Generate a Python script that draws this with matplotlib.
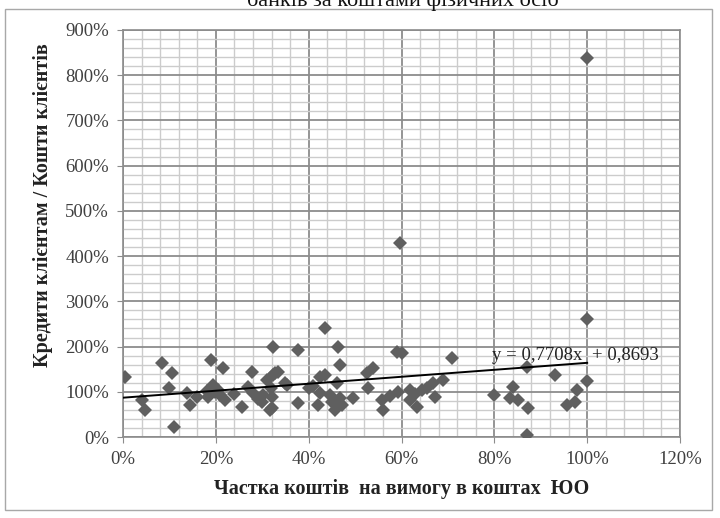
import numpy as np
import matplotlib.pyplot as plt
from matplotlib.ticker import MultipleLocator, FuncFormatter
from matplotlib.patches import Rectangle

plt.rcParams['font.family'] = ['Liberation Serif', 'DejaVu Serif']

# Share of demand deposits in legal-entity funds (x) and loans/deposits ratio (y)
demand_share = [0.004, 0.04, 0.047, 0.084, 0.105, 0.10, 0.11, 0.138, 0.144, 0.16,
                0.19, 0.194, 0.198, 0.183, 0.216, 0.22, 0.209, 0.256, 0.278, 0.27,
                0.28, 0.30, 0.317, 0.323, 0.31, 0.328, 0.302, 0.377, 0.463, 0.468,
                0.435, 0.334, 0.323, 0.318, 0.32, 0.32, 0.353, 0.377, 0.40, 0.425,
                0.435, 0.425, 0.42, 0.446, 0.46, 0.457, 0.468, 0.496, 0.472, 0.526,
                0.539, 0.528, 0.558, 0.56, 0.59, 0.60, 0.593, 0.597, 0.618, 0.618,
                0.634, 0.644, 0.655, 0.668, 0.672, 0.69, 0.709, 0.80, 0.834, 0.84,
                0.851, 0.87, 0.873, 0.87, 0.931, 0.957, 0.974, 0.978, 1.0, 1.0,
                1.0, 0.18, 0.24, 0.29, 0.41, 0.45, 0.63, 0.205, 0.35, 0.575]
loans_to_deposits = [1.33, 0.82, 0.60, 1.64, 1.41, 1.08, 0.22, 0.97, 0.71, 0.88,
                     1.70, 1.15, 1.00, 0.88, 1.53, 0.82, 0.93, 0.66, 1.44, 1.11,
                     0.97, 0.77, 0.60, 1.99, 1.26, 1.41, 0.93, 1.92, 1.99, 1.59,
                     2.42, 1.44, 1.37, 1.08, 0.88, 0.64, 1.15, 0.75, 1.08, 1.33,
                     1.37, 0.97, 0.71, 0.93, 1.19, 0.60, 0.86, 0.86, 0.71, 1.41,
                     1.53, 1.08, 0.82, 0.60, 1.88, 1.86, 1.00, 4.29, 1.04, 0.82,
                     0.66, 1.04, 1.08, 1.19, 0.88, 1.26, 1.75, 0.93, 0.86, 1.11,
                     0.82, 1.55, 0.64, 0.04, 1.37, 0.71, 0.77, 1.04, 1.24, 2.62,
                     8.38, 1.02, 0.95, 0.85, 1.12, 0.78, 0.95, 1.05, 1.20, 0.90]

# Linear trend from the source
slope = 0.7708
intercept = 0.8693
trend_x = [0.0, 1.0]

fig = plt.figure(figsize=(7.2, 5.18), dpi=100)
ax = fig.add_axes([123/720, 1-437/518, 557/720, 407/518])

ax.plot(demand_share, loans_to_deposits, linestyle='none', marker='D',
        markersize=7, color='#5f5f5f', markeredgewidth=0, zorder=3)
tx = np.array(trend_x)
ax.plot(tx, slope*tx + intercept, color='black', lw=1.4, zorder=4)
ax.text(0.795, 1.81, 'y = 0,7708x  + 0,8693', fontsize=13.5, color='#222222',
        va='center', ha='left', zorder=5)

ax.set_xlim(0, 1.2)
ax.set_ylim(0, 9)
ax.xaxis.set_major_locator(MultipleLocator(0.2))
ax.xaxis.set_minor_locator(MultipleLocator(0.04))
ax.yaxis.set_major_locator(MultipleLocator(1))
ax.yaxis.set_minor_locator(MultipleLocator(0.2))
pct = FuncFormatter(lambda v, p: f'{v*100:.0f}%')
ax.xaxis.set_major_formatter(pct)
ax.yaxis.set_major_formatter(pct)

ax.grid(which='major', color='#8c8c8c', lw=1.3, zorder=1)
ax.grid(which='minor', color='#cccccc', lw=1.0, zorder=0)
ax.set_axisbelow(True)
for s in ax.spines.values():
    s.set_color('#8c8c8c')
    s.set_linewidth(1.2)
ax.tick_params(which='major', length=4, color='#8c8c8c', labelsize=13.5,
               labelcolor='#404040', pad=6)
ax.tick_params(which='minor', length=0)

ax.set_xlabel('Частка коштів  на вимогу в коштах  ЮО', fontsize=14.5,
              fontweight='bold', color='#222222', labelpad=8)
ax.set_ylabel('Кредити клієнтам / Кошти клієнтів', fontsize=14.5,
              fontweight='bold', color='#222222')
ax.yaxis.set_label_coords(-0.125, 0.57)

# chart-area border and clipped title from the source page
fig.patches.append(Rectangle((5/720, 1-510/518), 707/720, 501/518,
                             transform=fig.transFigure, fill=False,
                             edgecolor='#a8a8a8', lw=1.0))
fig.text(0.56, 1-6/518, 'банків за коштами фізичних осіб', fontsize=16,
         ha='center', va='baseline', color='#111111')

fig.savefig('out.png', dpi=100)
